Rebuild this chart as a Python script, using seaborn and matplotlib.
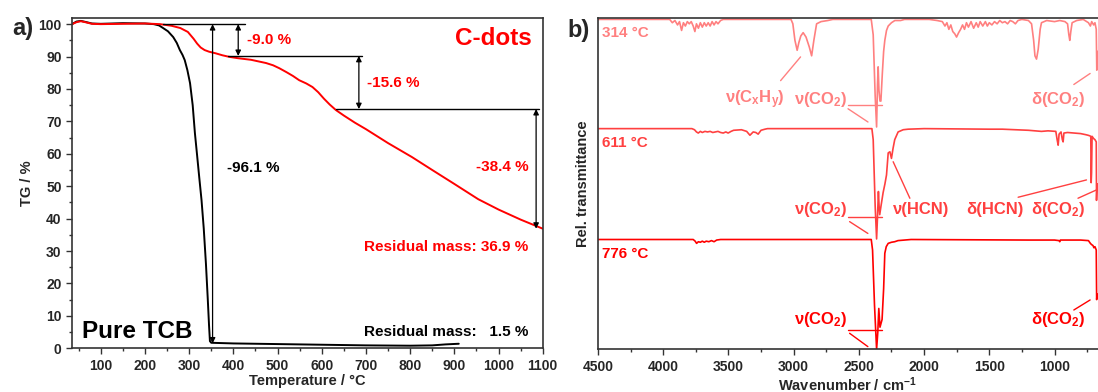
import numpy as np
import pandas as pd
import matplotlib
matplotlib.use('Agg')
import matplotlib.pyplot as plt
import seaborn as sns

# ---- data: TGA ----
tcb_temp = [35, 45, 55, 65, 80, 100, 150, 200, 220, 232, 241, 252, 264, 272, 279, 285, 290, 296,
            302, 308, 313, 318, 323, 328, 333, 338, 342, 345, 347, 350, 400, 500, 600, 700, 800,
            850, 880, 910]
tcb_tg = [100.0, 100.8, 101.0, 100.7, 100.2, 100.1, 100.3, 100.2, 100.0, 99.6, 98.8, 97.8, 96.0,
          94.2, 92.0, 90.5, 88.9, 85.8, 81.8, 75.0, 66.4, 59.5, 52.5, 45.7, 37.0, 26.0, 15.5, 7.0,
          2.2, 1.7, 1.5, 1.3, 1.1, 0.9, 0.8, 0.9, 1.2, 1.4]

cdots_temp = [35, 45, 55, 65, 80, 100, 200, 234, 260, 280, 297, 310, 318, 326, 335, 345, 360, 375,
              391, 410, 440, 474, 490, 504, 520, 535, 549, 565, 579, 592, 605, 618, 632, 650, 675,
              700, 750, 804, 850, 900, 954, 1000, 1050, 1100]
cdots_tg = [100.0, 100.6, 100.9, 100.6, 100.1, 100.0, 100.2, 100.0, 99.5, 98.8, 97.6, 95.5, 94.0,
            92.8, 92.0, 91.5, 91.0, 90.4, 89.9, 89.5, 89.0, 88.0, 87.3, 86.4, 85.2, 84.0, 82.7, 81.7,
            80.6, 79.0, 77.0, 75.2, 73.5, 71.8, 69.6, 67.6, 63.3, 59.0, 55.0, 50.7, 46.0, 42.8, 39.7,
            36.9]

# mass loss steps (level lines)
step_levels = [100.0, 90.2, 73.8, 36.9]

# ---- data: FTIR (offset traces) ----
wn_314 = [4500, 3950, 3930, 3910, 3890, 3875, 3859, 3845, 3830, 3815, 3800, 3785, 3770, 3757, 3745,
          3730, 3715, 3700, 3685, 3670, 3655, 3640, 3625, 3610, 3595, 3580, 3560, 3540, 3020, 3006,
          2990, 2973, 2960, 2945, 2927, 2905, 2880, 2862, 2845, 2824, 2790, 2738, 2700, 2405, 2390,
          2375, 2364, 2357, 2352, 2346, 2338, 2331, 2320, 2310, 2301, 2288, 2275, 2250, 2224, 2180,
          2150, 1960, 1900, 1860, 1840, 1825, 1810, 1795, 1780, 1765, 1751, 1735, 1720, 1705, 1690,
          1675, 1660, 1640, 1620, 1600, 1585, 1570, 1550, 1530, 1515, 1500, 1480, 1460, 1440, 1420,
          1400, 1380, 1360, 1340, 1320, 1300, 1280, 1250, 1200, 1176, 1160, 1150, 1138, 1125, 1110,
          1100, 1060, 1000, 960, 920, 900, 890, 883, 875, 865, 830, 780, 740, 725, 715, 700, 690,
          680, 676, 672, 670]
tr_314 = [2.99, 2.99, 2.96, 2.98, 2.94, 2.97, 2.89, 2.96, 2.93, 2.97, 2.95, 2.97, 2.93, 2.88, 2.95,
          2.91, 2.96, 2.92, 2.96, 2.93, 2.96, 2.93, 2.97, 2.94, 2.97, 2.95, 2.98, 2.99, 2.99, 2.95,
          2.80, 2.71, 2.78, 2.84, 2.87, 2.83, 2.74, 2.66, 2.80, 2.95, 2.97, 2.98, 2.99, 2.99, 2.85,
          2.30, 2.015, 2.40, 2.56, 2.35, 2.25, 2.25, 2.50, 2.70, 2.80, 2.89, 2.93, 2.96, 2.98, 2.98,
          2.99, 2.99, 2.98, 2.97, 2.93, 2.96, 2.90, 2.94, 2.88, 2.86, 2.83, 2.87, 2.90, 2.94, 2.90,
          2.96, 2.92, 2.97, 2.91, 2.96, 2.92, 2.97, 2.93, 2.97, 2.93, 2.96, 2.94, 2.97, 2.95, 2.98,
          2.96, 2.97, 2.95, 2.98, 2.97, 2.95, 2.98, 2.99, 2.98, 2.95, 2.80, 2.66, 2.63, 2.72, 2.90,
          2.96, 2.98, 2.97, 2.98, 2.97, 2.95, 2.85, 2.80, 2.88, 2.96, 2.98, 2.99, 2.96, 2.93, 2.97,
          2.94, 2.96, 2.90, 2.53, 2.60, 2.70]

wn_611 = [4500, 3780, 3760, 3745, 3731, 3715, 3700, 3680, 3660, 3640, 3620, 3600, 3580, 3560, 3540,
          3520, 3502, 3480, 3460, 3400, 3360, 3335, 3310, 3290, 3272, 3250, 3220, 3200, 2400, 2390,
          2375, 2364, 2357, 2350, 2345, 2340, 2330, 2314, 2300, 2288, 2275, 2262, 2250, 2238, 2225,
          2199, 2160, 2122, 2000, 1500, 1400, 1300, 1200, 1150, 1100, 1050, 990, 980, 972, 965, 950,
          940, 934, 928, 900, 850, 800, 760, 743, 730, 722, 719, 716, 712, 700, 690, 680, 678, 675,
          672]
tr_611 = [2.0, 2.0, 1.99, 1.97, 1.96, 1.975, 1.965, 1.975, 1.97, 1.975, 1.965, 1.97, 1.975, 1.965,
          1.96, 1.97, 1.96, 1.975, 1.985, 1.99, 1.975, 1.94, 1.97, 1.965, 1.95, 1.985, 1.995, 2.0,
          2.0, 1.9, 1.3, 1.0, 1.2, 1.43, 1.3, 1.22, 1.3, 1.42, 1.5, 1.58, 1.78, 1.79, 1.73, 1.82, 1.90,
          1.97, 1.99, 1.995, 2.0, 1.995, 1.995, 1.99, 1.985, 1.98, 1.975, 1.98, 1.975, 1.9, 1.85, 1.95,
          1.97, 1.9, 1.88, 1.96, 1.965, 1.96, 1.955, 1.945, 1.94, 1.935, 1.93, 1.51, 1.60, 1.93, 1.91,
          1.90, 1.88, 1.35, 1.45, 1.5]

wn_776 = [4500, 3770, 3755, 3744, 3730, 3715, 3700, 3685, 3670, 3650, 3630, 3610, 3590, 3560, 2405,
          2395, 2380, 2364, 2355, 2347, 2338, 2322, 2310, 2301, 2290, 2275, 2250, 2225, 2200, 2150,
          2100, 1200, 1000, 965, 960, 955, 800, 740, 725, 717, 705, 698, 690, 680, 677, 673]
tr_776 = [0.995, 0.995, 0.98, 0.96, 0.975, 0.97, 0.98, 0.97, 0.98, 0.975, 0.985, 0.975, 0.99, 0.995,
          0.995, 0.9, 0.4, 0.0, 0.15, 0.37, 0.20, 0.27, 0.55, 0.87, 0.93, 0.96, 0.97, 0.975, 0.985,
          0.99, 0.995, 0.99, 0.99, 0.985, 0.975, 0.99, 0.99, 0.985, 0.96, 0.95, 0.94, 0.92, 0.93, 0.90,
          0.45, 0.5]

temp_labels = ['314 °C', '611 °C', '776 °C']
trace_colors = ['#ff8080', '#ff4040', '#ff0000']

# ---- style ----
sns.set_style('ticks')
plt.rcParams['font.family'] = ['Liberation Sans', 'DejaVu Sans']
plt.rcParams['font.weight'] = 'bold'
plt.rcParams['axes.labelweight'] = 'bold'
plt.rcParams['mathtext.fontset'] = 'custom'
plt.rcParams['mathtext.rm'] = 'Liberation Sans:bold'
plt.rcParams['mathtext.it'] = 'Liberation Sans:bold'
plt.rcParams['mathtext.bf'] = 'Liberation Sans:bold'
plt.rcParams['mathtext.sf'] = 'Liberation Sans:bold'

fig = plt.figure(figsize=(10.98, 3.92), dpi=100)
ax1 = fig.add_axes([0.0656, 0.1115, 0.4287, 0.8418])
ax2 = fig.add_axes([0.5446, 0.1090, 0.4550, 0.8443])

spine_col = '#333333'
for ax in (ax1, ax2):
    for s in ax.spines.values():
        s.set_color(spine_col)
        s.set_linewidth(1.2)
    ax.tick_params(which='both', direction='out', color=spine_col, width=1.0)
    ax.tick_params(which='major', length=4, labelsize=10)
    ax.tick_params(which='minor', length=2.5)

# ---- panel a ----
sns.lineplot(x=tcb_temp, y=tcb_tg, ax=ax1, color='black', lw=1.4, estimator=None, sort=False)
sns.lineplot(x=cdots_temp, y=cdots_tg, ax=ax1, color='#ff0000', lw=1.4, estimator=None, sort=False)
ax1.set_xlim(35, 1100)
ax1.set_ylim(0, 101.8)
ax1.set_xticks(range(100, 1101, 100))
ax1.set_xticks(range(50, 1101, 50), minor=True)
ax1.set_yticks(range(0, 101, 10))
ax1.set_yticks(range(5, 101, 10), minor=True)
ax1.set_xlabel('Temperature / °C', fontsize=10.5, labelpad=1)
ax1.set_ylabel('TG / %', fontsize=10.5, labelpad=3)

arrow_kw = dict(arrowstyle='<|-|>', color='black', lw=0.9, mutation_scale=8, shrinkA=0, shrinkB=0)
ax1.plot([240, 426], [step_levels[0]] * 2, color='black', lw=1.0)
ax1.plot([388, 691], [step_levels[1]] * 2, color='black', lw=1.0)
ax1.plot([632, 1092], [step_levels[2]] * 2, color='black', lw=1.0)
ax1.annotate('', xy=(411, step_levels[1]), xytext=(411, step_levels[0]), arrowprops=arrow_kw)
ax1.annotate('', xy=(684, step_levels[2]), xytext=(684, step_levels[1]), arrowprops=arrow_kw)
ax1.annotate('', xy=(1085, step_levels[3]), xytext=(1085, step_levels[2]), arrowprops=arrow_kw)
ax1.annotate('', xy=(353, 1.5), xytext=(353, step_levels[0]), arrowprops=arrow_kw)

ax1.text(432, 95.1, '-9.0 %', color='#ff0000', fontsize=11, va='center', ha='left')
ax1.text(703, 81.8, '-15.6 %', color='#ff0000', fontsize=11, va='center', ha='left')
ax1.text(1075, 95.5, 'C-dots', color='#ff0000', fontsize=17.5, va='center', ha='right')
ax1.text(1067, 55.9, '-38.4 %', color='#ff0000', fontsize=11, va='center', ha='right')
ax1.text(385, 55.5, '-96.1 %', color='black', fontsize=11, va='center', ha='left')
ax1.text(1067, 31.2, 'Residual mass: 36.9 %', color='#ff0000', fontsize=11, va='center', ha='right')
ax1.text(1067, 5.0, 'Residual mass:   1.5 %', color='black', fontsize=11, va='center', ha='right')
ax1.text(58, 5.3, 'Pure TCB', color='black', fontsize=17.5, va='center', ha='left')

# ---- panel b ----
for wn, tr, col in zip([wn_314, wn_611, wn_776], [tr_314, tr_611, tr_776], trace_colors):
    sns.lineplot(x=wn, y=tr, ax=ax2, color=col, lw=1.2, estimator=None, sort=False)
ax2.set_xlim(4500, 670)
ax2.set_ylim(0, 3.0)
ax2.set_xticks(range(4500, 999, -500))
ax2.set_xticks(range(4500, 699, -250), minor=True)
ax2.set_yticks([])
ax2.spines['right'].set_visible(False)
ax2.set_xlabel('Wavenumber / cm$^{-1}$', fontsize=10.5, labelpad=1)
ax2.set_ylabel('Rel. transmittance', fontsize=10.5, labelpad=6)

fs_b = 12
ax2.text(4470, 2.865, temp_labels[0], color=trace_colors[0], fontsize=11, va='center', ha='left')
ax2.text(4470, 1.873, temp_labels[1], color=trace_colors[1], fontsize=11, va='center', ha='left')
ax2.text(4470, 0.864, temp_labels[2], color=trace_colors[2], fontsize=11, va='center', ha='left')

# 314 °C labels
c = trace_colors[0]
ax2.text(3070, 2.26, 'ν(C$_x$H$_y$)', color=c, fontsize=fs_b, va='center', ha='right')
ax2.text(2588, 2.26, 'ν(CO$_2$)', color=c, fontsize=fs_b, va='center', ha='right')
ax2.text(968, 2.26, 'δ(CO$_2$)', color=c, fontsize=fs_b, va='center', ha='center')
ax2.plot([3100, 2947], [2.435, 2.65], color=c, lw=1.0)
ax2.plot([2583, 2326], [2.218, 2.218], color=c, lw=1.0)
ax2.plot([2583, 2430], [2.18, 2.06], color=c, lw=1.0)
ax2.plot([852, 727], [2.40, 2.50], color=c, lw=1.0)

# 611 °C labels
c = trace_colors[1]
ax2.text(2588, 1.263, 'ν(CO$_2$)', color=c, fontsize=fs_b, va='center', ha='right')
ax2.text(2240, 1.263, 'ν(HCN)', color=c, fontsize=fs_b, va='center', ha='left')
ax2.text(1675, 1.263, 'δ(HCN)', color=c, fontsize=fs_b, va='center', ha='left')
ax2.text(968, 1.263, 'δ(CO$_2$)', color=c, fontsize=fs_b, va='center', ha='center')
ax2.plot([2583, 2326], [1.20, 1.20], color=c, lw=1.0)
ax2.plot([2571, 2431], [1.157, 1.05], color=c, lw=1.0)
ax2.plot([2109, 2237], [1.369, 1.70], color=c, lw=1.0)
ax2.plot([1279, 755], [1.378, 1.535], color=c, lw=1.0)
ax2.plot([820, 679], [1.369, 1.444], color=c, lw=1.0)

# 776 °C labels
c = trace_colors[2]
ax2.text(2588, 0.266, 'ν(CO$_2$)', color=c, fontsize=fs_b, va='center', ha='right')
ax2.text(968, 0.266, 'δ(CO$_2$)', color=c, fontsize=fs_b, va='center', ha='center')
ax2.plot([2583, 2326], [0.175, 0.175], color=c, lw=1.0)
ax2.plot([2571, 2431], [0.145, 0.024], color=c, lw=1.0)
ax2.plot([852, 727], [0.356, 0.447], color=c, lw=1.0)

fig.text(0.011, 0.927, 'a)', fontsize=17, fontweight='bold', va='center', ha='left')
fig.text(0.517, 0.922, 'b)', fontsize=17, fontweight='bold', va='center', ha='left')

fig.savefig('out.png', dpi=100)
